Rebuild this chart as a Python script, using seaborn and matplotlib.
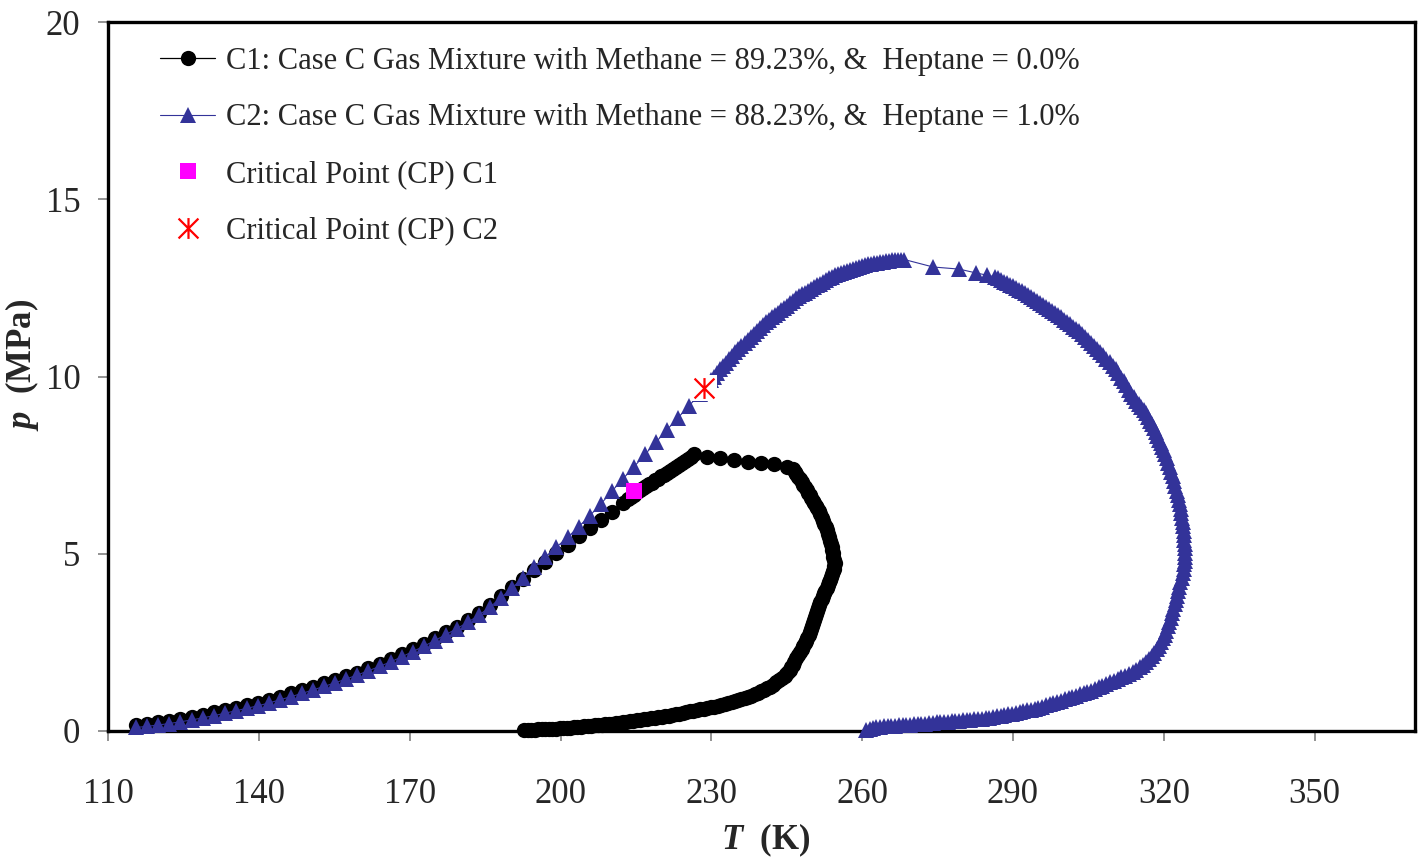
import pandas as pd
import seaborn as sns
import matplotlib.pyplot as plt
from matplotlib.path import Path

# Phase envelope C1: methane 89.23 %, heptane 0.0 %
c1_temp = [115.6, 117.8, 120.0, 122.2, 124.4, 126.6, 128.8, 131.0, 133.2, 135.4,
           137.6, 139.8, 142.0, 144.2, 146.4, 148.6, 150.8, 153.0, 155.2, 157.4,
           159.6, 161.8, 164.0, 166.2, 168.4, 170.6, 172.8, 175.0, 177.2, 179.4,
           181.6, 183.8, 186.0, 188.2, 190.4, 192.6, 194.8, 197.0, 199.2, 201.4,
           203.6, 205.8, 208.0, 210.2, 212.4,
           213.4, 214.0, 214.6, 215.2, 215.8, 216.4, 217.0, 217.6, 218.2, 218.8,
           219.4, 220.0, 220.6, 221.2, 221.8, 222.4, 223.0, 223.6, 224.2, 224.8,
           225.4, 226.0, 226.6,
           229.2, 231.8, 234.6, 237.2, 239.8, 242.5, 245.1,
           246.2, 246.55, 246.9, 247.25, 247.6, 247.95, 248.3, 248.65, 249.0, 249.3,
           249.6, 249.9, 250.2, 250.5, 250.8, 251.1, 251.4, 251.7, 252.0, 252.25,
           252.5, 252.75, 253.0, 253.2, 253.4, 253.6, 253.8, 253.95, 254.1, 254.2,
           254.3, 254.4, 254.5, 254.45, 254.4, 254.25, 254.1, 253.9, 253.7, 253.45,
           253.2, 252.95, 252.7, 252.45, 252.2, 251.95, 251.7, 251.45, 251.2, 251.0,
           250.8, 250.6, 250.4, 250.2, 250.0, 249.8, 249.6, 249.35, 249.1, 248.85,
           248.6, 248.3, 248.0, 247.65, 247.3, 246.9, 246.5, 246.2, 245.9, 245.6,
           245.3,
           244.95, 244.6, 244.05, 243.5, 242.9, 242.3, 241.7, 241.1, 240.5, 239.9,
           239.25, 238.6, 237.95, 237.3, 236.65, 236.0, 235.35, 234.7, 234.05, 233.4,
           232.7, 232.0, 231.3, 230.6, 229.9, 229.2, 228.5, 227.8, 227.1, 226.4,
           225.7, 225.0, 224.3, 223.6, 222.9, 222.2, 221.5, 220.8, 220.1, 219.4,
           218.7, 218.0, 217.3, 216.6, 215.9, 215.2, 214.5, 213.8, 213.1, 212.4,
           211.7, 211.0, 210.3, 209.6, 208.9, 208.2, 207.5, 206.8, 206.1, 205.4,
           204.7, 204.0, 203.3, 202.6, 201.9, 201.2, 200.5, 199.8, 199.1, 198.4,
           197.7, 197.0, 196.3, 195.6, 194.9, 194.2, 193.5, 192.8]
c1_pres = [0.17, 0.20, 0.24, 0.29, 0.34, 0.40, 0.46, 0.53, 0.59, 0.66,
           0.73, 0.80, 0.88, 0.97, 1.06, 1.15, 1.24, 1.34, 1.44, 1.54,
           1.65, 1.77, 1.89, 2.02, 2.16, 2.31, 2.46, 2.62, 2.78, 2.94,
           3.12, 3.32, 3.55, 3.80, 4.05, 4.30, 4.53, 4.78, 5.02, 5.26,
           5.49, 5.72, 5.95, 6.18, 6.42,
           6.54, 6.61, 6.67, 6.73, 6.79, 6.85, 6.90, 6.96, 7.01, 7.07,
           7.12, 7.18, 7.23, 7.29, 7.34, 7.40, 7.45, 7.51, 7.56, 7.62,
           7.68, 7.74, 7.80,
           7.73, 7.70, 7.64, 7.59, 7.56, 7.53, 7.45,
           7.38, 7.31, 7.25, 7.17, 7.10, 7.02, 6.95, 6.87, 6.80, 6.72,
           6.65, 6.57, 6.50, 6.43, 6.36, 6.28, 6.20, 6.11, 6.02, 5.93,
           5.85, 5.75, 5.66, 5.56, 5.47, 5.37, 5.28, 5.19, 5.10, 5.01,
           4.92, 4.83, 4.75, 4.66, 4.58, 4.50, 4.42, 4.34, 4.27, 4.19,
           4.12, 4.04, 3.96, 3.88, 3.80, 3.71, 3.63, 3.55, 3.47, 3.38,
           3.30, 3.21, 3.13, 3.04, 2.96, 2.87, 2.79, 2.70, 2.62, 2.55,
           2.48, 2.40, 2.32, 2.23, 2.15, 2.05, 1.95, 1.87, 1.80, 1.73,
           1.66,
           1.60, 1.55, 1.49, 1.43, 1.37, 1.31, 1.25, 1.20, 1.16, 1.12,
           1.08, 1.04, 1.00, 0.97, 0.94, 0.91, 0.88, 0.85, 0.82, 0.79,
           0.76, 0.74, 0.71, 0.69, 0.67, 0.65, 0.63, 0.61, 0.59, 0.57,
           0.55, 0.53, 0.51, 0.49, 0.47, 0.45, 0.43, 0.42, 0.40, 0.39,
           0.37, 0.36, 0.34, 0.33, 0.31, 0.30, 0.28, 0.27, 0.25, 0.24,
           0.23, 0.22, 0.21, 0.20, 0.19, 0.18, 0.17, 0.16, 0.15, 0.14,
           0.13, 0.12, 0.11, 0.10, 0.09, 0.09, 0.08, 0.08, 0.07, 0.07,
           0.06, 0.06, 0.05, 0.05, 0.04, 0.04, 0.03, 0.03]

# Phase envelope C2: methane 88.23 %, heptane 1.0 %
c2_temp = [115.6, 117.8, 120.0, 122.2, 124.4, 126.6, 128.8, 131.0, 133.2, 135.4,
           137.6, 139.8, 142.0, 144.2, 146.4, 148.6, 150.8, 153.0, 155.2, 157.4,
           159.6, 161.8, 164.0, 166.2, 168.4, 170.6, 172.8, 175.0, 177.2, 179.4,
           181.6, 183.8, 186.0, 188.2, 190.4, 192.6, 194.8, 197.0, 199.2, 201.4,
           203.6, 205.8, 208.0, 210.2, 212.4, 214.6, 216.8, 219.0, 221.2, 223.4,
           225.6, 227.8,
           229.4, 230.0, 230.6, 231.2, 231.8, 232.4, 233.0, 233.6, 234.2, 234.8,
           235.4, 236.0, 236.6, 237.2, 237.8, 238.4, 239.0, 239.6, 240.2, 240.8,
           241.4, 242.0, 242.6, 243.2, 243.8, 244.4, 245.0, 245.6, 246.2, 246.8,
           247.4, 248.0, 248.6, 249.2, 249.8, 250.4, 251.0, 251.6, 252.2, 252.8,
           253.4, 254.0, 254.6, 255.2, 255.8, 256.4, 257.0, 257.6, 258.2, 258.8,
           259.4, 260.0, 260.6, 261.2, 261.8, 262.4, 263.0, 263.6, 264.2, 264.8,
           265.4, 266.0, 266.6, 267.2, 267.8, 268.4,
           274.1, 279.3, 282.7, 284.8,
           286.4, 287.0, 287.6, 288.2, 288.8, 289.4, 290.0, 290.6, 291.2, 291.8,
           292.4, 293.0, 293.6, 294.2, 294.8, 295.4, 296.0, 296.6, 297.2, 297.8,
           298.4, 299.0, 299.6, 300.2, 300.8, 301.4, 302.0, 302.6, 303.2, 303.8,
           304.4, 305.0, 305.6, 306.2, 306.8, 307.4, 308.0, 308.6, 309.2, 309.8,
           310.4,
           310.9, 311.5, 312.0, 312.5, 313.0, 313.5, 314.0, 314.5, 315.0, 315.5,
           316.0, 316.5, 316.9, 317.3, 317.65, 318.0, 318.35, 318.7, 319.05, 319.4,
           319.7, 320.0, 320.3, 320.6, 320.9, 321.2, 321.5, 321.8, 322.05, 322.3,
           322.55, 322.8, 323.0, 323.2, 323.35, 323.5, 323.65, 323.8, 323.9, 324.0,
           324.05, 324.1, 324.15, 324.2, 324.2, 324.2, 324.15, 324.1,
           323.95, 323.8, 323.55, 323.3, 323.1, 322.9, 322.65, 322.4, 322.15, 321.9,
           321.65, 321.4, 321.1, 320.8, 320.5, 320.2, 319.8, 319.4, 319.0, 318.6,
           318.1, 317.6, 317.05, 316.5, 315.85, 315.2, 314.5, 313.8,
           313.05, 312.3, 311.55, 310.8, 310.05, 309.3, 308.55, 307.8, 307.05, 306.3,
           305.55, 304.8, 304.05, 303.3, 302.55, 301.8, 301.05, 300.3, 299.55, 298.8,
           298.05, 297.3, 296.55, 295.8, 295.05, 294.3, 293.55, 292.8, 292.05, 291.3,
           290.55, 289.8, 289.05, 288.3, 287.55, 286.8, 286.05, 285.3, 284.55, 283.8,
           283.05, 282.3, 281.55, 280.8, 280.05, 279.3, 278.55, 277.8, 277.05, 276.3,
           275.55, 274.8, 274.05, 273.3, 272.55, 271.8, 271.05, 270.3, 269.55, 268.8,
           268.05, 267.3, 266.55, 265.8, 265.05, 264.3, 263.55, 262.8, 262.1, 261.5,
           260.8]
c2_pres = [0.10, 0.13, 0.17, 0.21, 0.26, 0.31, 0.37, 0.43, 0.50, 0.57,
           0.64, 0.71, 0.79, 0.88, 0.97, 1.06, 1.16, 1.26, 1.36, 1.47,
           1.58, 1.70, 1.82, 1.95, 2.09, 2.24, 2.39, 2.55, 2.72, 2.89,
           3.07, 3.27, 3.50, 3.76, 4.04, 4.33, 4.62, 4.91, 5.19, 5.46,
           5.76, 6.07, 6.40, 6.76, 7.11, 7.45, 7.80, 8.15, 8.50, 8.84,
           9.18, 9.52,
           9.81, 9.90, 10.00, 10.10, 10.20, 10.29, 10.39, 10.49, 10.59, 10.69,
           10.78, 10.86, 10.95, 11.03, 11.12, 11.20, 11.29, 11.37, 11.46, 11.53,
           11.60, 11.67, 11.73, 11.80, 11.87, 11.94, 12.00, 12.07, 12.14, 12.21,
           12.27, 12.32, 12.37, 12.42, 12.47, 12.52, 12.57, 12.62, 12.67, 12.72,
           12.77, 12.82, 12.85, 12.88, 12.91, 12.94, 12.97, 13.00, 13.03, 13.06,
           13.09, 13.12, 13.15, 13.17, 13.18, 13.20, 13.21, 13.22, 13.24, 13.25,
           13.27, 13.28, 13.29, 13.29, 13.30, 13.30,
           13.09, 13.03, 12.92, 12.86,
           12.81, 12.77, 12.72, 12.68, 12.64, 12.59, 12.54, 12.49, 12.44, 12.40,
           12.35, 12.30, 12.24, 12.19, 12.13, 12.08, 12.03, 11.97, 11.91, 11.85,
           11.79, 11.73, 11.67, 11.60, 11.54, 11.47, 11.41, 11.34, 11.27, 11.19,
           11.11, 11.03, 10.95, 10.86, 10.78, 10.69, 10.60, 10.50, 10.41, 10.31,
           10.21,
           10.10, 9.97, 9.86, 9.75, 9.63, 9.52, 9.41, 9.31, 9.22, 9.14,
           9.06, 8.98, 8.86, 8.75, 8.65, 8.55, 8.44, 8.33, 8.22, 8.12,
           8.02, 7.93, 7.81, 7.70, 7.57, 7.45, 7.31, 7.18, 7.05, 6.92,
           6.78, 6.65, 6.52, 6.40, 6.27, 6.15, 6.02, 5.90, 5.77, 5.65,
           5.52, 5.40, 5.27, 5.15, 5.02, 4.90, 4.80, 4.70,
           4.57, 4.45, 4.32, 4.20, 4.07, 3.95, 3.82, 3.70, 3.57, 3.45,
           3.32, 3.20, 3.07, 2.95, 2.83, 2.72, 2.61, 2.50, 2.40, 2.30,
           2.21, 2.12, 2.03, 1.95, 1.87, 1.80, 1.73, 1.67,
           1.61, 1.56, 1.51, 1.46, 1.41, 1.37, 1.32, 1.28, 1.23, 1.19,
           1.14, 1.10, 1.06, 1.03, 0.99, 0.96, 0.92, 0.89, 0.85, 0.82,
           0.78, 0.75, 0.72, 0.69, 0.66, 0.63, 0.60, 0.58, 0.55, 0.53,
           0.51, 0.49, 0.47, 0.45, 0.43, 0.42, 0.40, 0.38, 0.36, 0.35,
           0.34, 0.33, 0.32, 0.31, 0.30, 0.29, 0.28, 0.27, 0.26, 0.25,
           0.24, 0.24, 0.23, 0.22, 0.21, 0.21, 0.20, 0.19, 0.18, 0.18,
           0.17, 0.16, 0.15, 0.15, 0.14, 0.13, 0.12, 0.11, 0.08, 0.06,
           0.02]

# Critical points
cp1_temp = [214.7]
cp1_pres = [6.77]
cp2_temp = [228.6]
cp2_pres = [9.68]

series_labels = [
    "C1: Case C Gas Mixture with Methane = 89.23%, &  Heptane = 0.0%",
    "C2: Case C Gas Mixture with Methane = 88.23%, &  Heptane = 1.0%",
    "Critical Point (CP) C1",
    "Critical Point (CP) C2",
]
x_ticks = [110, 140, 170, 200, 230, 260, 290, 320, 350]
y_ticks = [0, 5, 10, 15, 20]

sns.set_theme(style="white")
plt.rcParams["font.family"] = ["Liberation Serif", "DejaVu Serif"]
plt.rcParams["mathtext.fontset"] = "custom"
plt.rcParams["mathtext.it"] = "Liberation Serif:italic:bold"
plt.rcParams["mathtext.rm"] = "Liberation Serif:bold"

fig = plt.figure(figsize=(14.18, 8.61), dpi=100)
ax = fig.add_axes([0.0762, 0.151, 0.9218, 0.8234])

c1 = pd.DataFrame({"T": c1_temp, "p": c1_pres})
c2 = pd.DataFrame({"T": c2_temp, "p": c2_pres})
cp1 = pd.DataFrame({"T": cp1_temp, "p": cp1_pres})
cp2 = pd.DataFrame({"T": cp2_temp, "p": cp2_pres})

sns.lineplot(data=c1, x="T", y="p", sort=False, estimator=None, ax=ax,
             color="black", lw=0.9, marker="o", markersize=11,
             markeredgewidth=0, clip_on=False, label=series_labels[0], zorder=3)
sns.lineplot(data=c2, x="T", y="p", sort=False, estimator=None, ax=ax,
             color="#333399", lw=0.8, marker="^", markersize=12,
             markeredgewidth=0, clip_on=False, label=series_labels[1], zorder=4)
sns.lineplot(data=cp1, x="T", y="p", estimator=None, ax=ax,
             color="#FF00FF", linestyle="none", marker="s", markersize=11.5,
             markeredgewidth=0, label=series_labels[2], zorder=6)

# asterisk marker: an X crossed by a vertical stroke
star = Path([(-1, -1), (1, 1), (-1, 1), (1, -1), (0, -1.05), (0, 1.05)],
            [Path.MOVETO, Path.LINETO, Path.MOVETO, Path.LINETO,
             Path.MOVETO, Path.LINETO])
sns.lineplot(data=cp2, x="T", y="p", estimator=None, ax=ax,
             color="white", linestyle="none", marker="s", markersize=19,
             markeredgewidth=0, label="_halo", zorder=5)
sns.lineplot(data=cp2, x="T", y="p", estimator=None, ax=ax,
             color="red", linestyle="none", marker=star, markersize=15,
             markeredgewidth=1.6, markerfacecolor="none", markeredgecolor="red",
             label=series_labels[3], zorder=6)

ax.set_xlim(110, 370)
ax.set_ylim(0, 20)
ax.set_xticks(x_ticks)
ax.set_yticks(y_ticks)
ax.set_xticklabels([str(v) for v in x_ticks])
ax.set_yticklabels([str(v) for v in y_ticks])
ax.tick_params(axis="x", which="major", direction="out", length=7, width=1.2,
               color="#808080", labelsize=25, pad=27, bottom=True, top=False)
ax.tick_params(axis="y", which="major", direction="out", length=7, width=1.2,
               color="#808080", labelsize=25, pad=13, left=True, right=False)
for side in ["left", "right", "top", "bottom"]:
    ax.spines[side].set_visible(True)
    ax.spines[side].set_color("black")
    ax.spines[side].set_linewidth(2.4)
ax.grid(False)

ax.set_xlabel(r"$T$  (K)", fontsize=25, fontweight="bold")
ax.set_ylabel(r"$p$  (MPa)", fontsize=25, fontweight="bold")
ax.xaxis.set_label_coords(0.503, -0.128)
ax.yaxis.set_label_coords(-0.051, 0.516)

handles, labels = ax.get_legend_handles_labels()
keep = [i for i, l in enumerate(labels) if not l.startswith("_")]
ax.legend([handles[i] for i in keep], [labels[i] for i in keep],
          loc="upper left", bbox_to_anchor=(0.04, 0.965), frameon=False,
          fontsize=22, handlelength=1.8, handletextpad=0.35,
          labelspacing=0.9, borderpad=0, borderaxespad=0, numpoints=1)

fig.savefig("out.png", dpi=100)
